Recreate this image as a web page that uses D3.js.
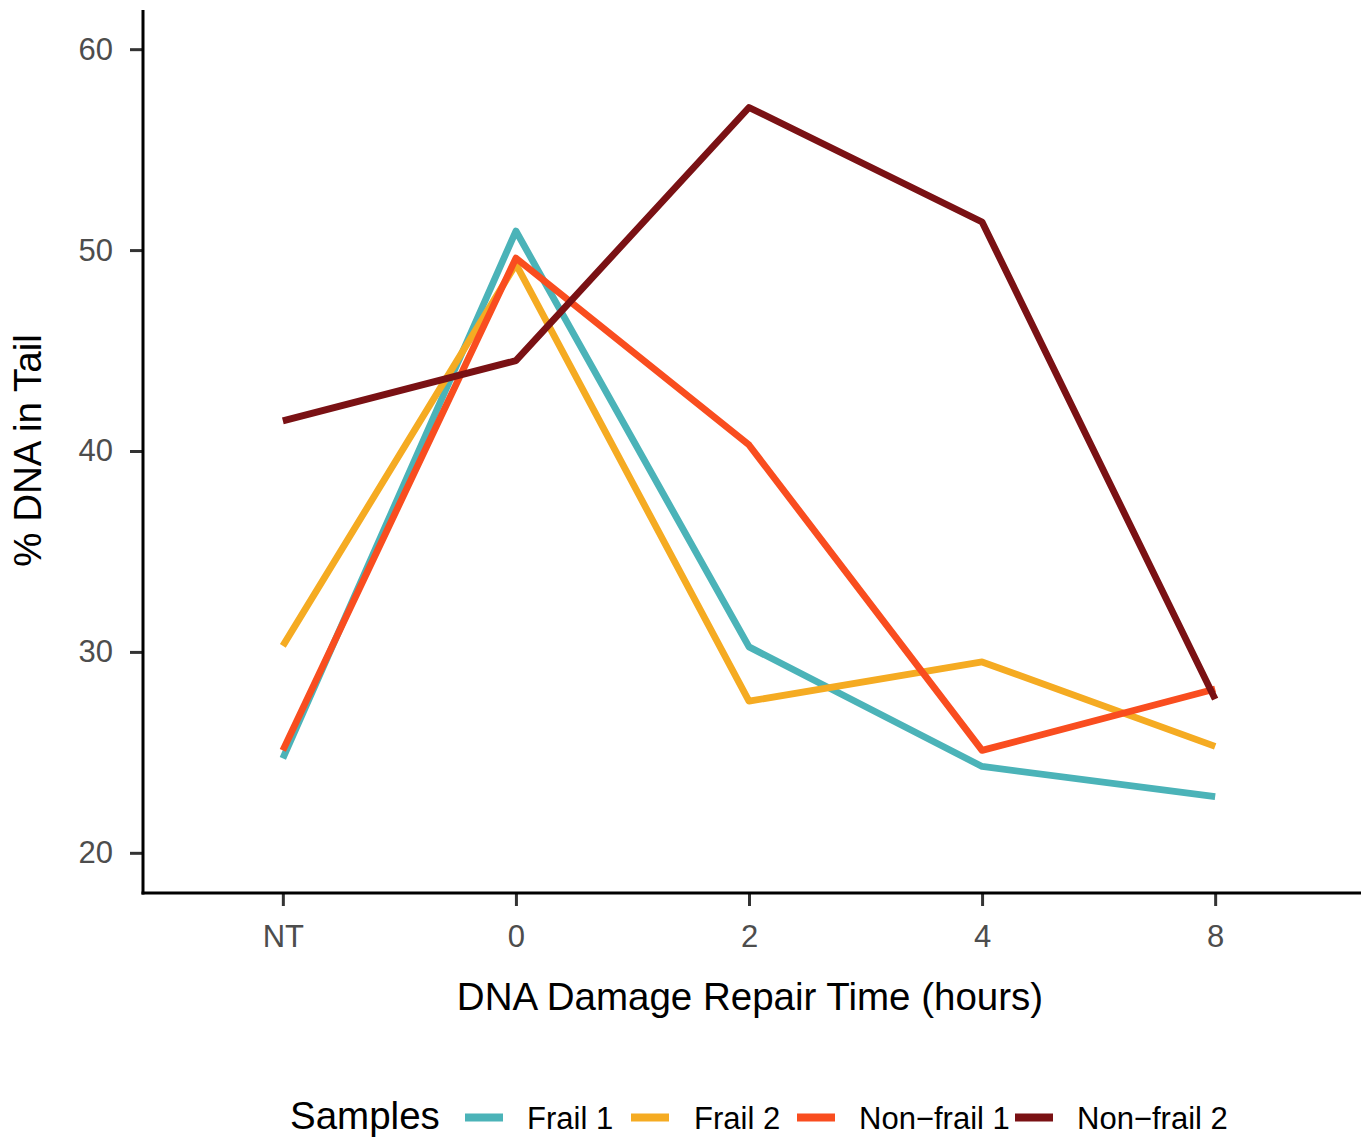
<!DOCTYPE html>
<html>
<head>
<meta charset="utf-8">
<script src="https://cdn.jsdelivr.net/npm/d3@7"></script>
<style>
  html, body { margin: 0; padding: 0; background: #fff; }
  svg { display: block; font-family: "Liberation Sans", Arial, Helvetica, sans-serif; }
</style>
</head>
<body>
<svg id="chart" width="1361" height="1140"></svg>
<script>
// ---- data ----
const timepoints = ["NT", "0", "2", "4", "8"];
const seriesNames = ["Frail 1", "Frail 2", "Non\u2212frail 1", "Non\u2212frail 2"];
const frail1 = [24.7, 50.95, 30.25, 24.3, 22.8];
const frail2 = [30.3, 49.3, 27.55, 29.5, 25.3];
const nonFrail1 = [25.1, 49.6, 40.3, 25.1, 28.15];
const nonFrail2 = [41.5, 44.5, 57.1, 51.4, 27.65];
const seriesColors = ["#4BB3B8", "#F5AB22", "#F94D1F", "#7A1114"];
const yTicks = [20, 30, 40, 50, 60];

const seriesValues = [frail1, frail2, nonFrail1, nonFrail2];
const series = seriesNames.map((name, i) => ({
  name, color: seriesColors[i],
  values: timepoints.map((t, j) => ({ t, v: seriesValues[i][j] }))
}));

// ---- layout ----
const svg = d3.select("#chart");
const plot = { left: 143, right: 1355, top: 10, bottom: 893 };

const x = d3.scalePoint()
  .domain(timepoints)
  .range([plot.left, plot.right])
  .padding(0.6);

const y = d3.scaleLinear()
  .domain([18.0, 61.95])
  .range([plot.bottom, plot.top]);

// lines
const line = d3.line().x(d => x(d.t)).y(d => y(d.v));
svg.append("g").selectAll("path")
  .data(series)
  .join("path")
  .attr("d", d => line(d.values))
  .attr("fill", "none")
  .attr("stroke", d => d.color)
  .attr("stroke-width", 6.8)
  .attr("stroke-linejoin", "round")
  .attr("stroke-linecap", "butt");

// y axis
const yAxis = svg.append("g")
  .attr("transform", `translate(${plot.left},0)`)
  .call(d3.axisLeft(y).tickValues(yTicks).tickSize(13).tickPadding(4));
yAxis.select(".domain").remove();
yAxis.selectAll(".tick line").attr("stroke", "#333333").attr("stroke-width", 3);
yAxis.selectAll(".tick text")
  .attr("fill", "#4D4D4D").attr("font-size", 31)
  .attr("font-family", "Liberation Sans, Arial, sans-serif")
  .attr("x", -30);

// x axis
const xAxis = svg.append("g")
  .attr("transform", `translate(0,${plot.bottom})`)
  .call(d3.axisBottom(x).tickSize(13).tickPadding(4));
xAxis.select(".domain").remove();
xAxis.selectAll(".tick line").attr("stroke", "#333333").attr("stroke-width", 3);
xAxis.selectAll(".tick text")
  .attr("fill", "#4D4D4D").attr("font-size", 31)
  .attr("font-family", "Liberation Sans, Arial, sans-serif")
  .attr("dy", null)
  .attr("y", 54);

// axis lines
svg.append("line")
  .attr("x1", plot.left).attr("x2", plot.left)
  .attr("y1", plot.top).attr("y2", plot.bottom + 1.5)
  .attr("stroke", "#000").attr("stroke-width", 3);
svg.append("line")
  .attr("x1", plot.left - 1.5).attr("x2", 1361)
  .attr("y1", plot.bottom).attr("y2", plot.bottom)
  .attr("stroke", "#000").attr("stroke-width", 3);

// axis titles
svg.append("text")
  .attr("x", (plot.left + plot.right) / 2 + 1)
  .attr("y", 1010)
  .attr("text-anchor", "middle")
  .attr("font-size", 38.5)
  .attr("fill", "#000")
  .text("DNA Damage Repair Time (hours)");

svg.append("text")
  .attr("transform", `translate(41,${(plot.top + plot.bottom) / 2 - 1}) rotate(-90)`)
  .attr("text-anchor", "middle")
  .attr("font-size", 38.5)
  .attr("fill", "#000")
  .text("% DNA in Tail");

// legend
const legend = svg.append("g");
legend.append("text")
  .attr("x", 290).attr("y", 1129)
  .attr("font-size", 38.5)
  .attr("fill", "#000")
  .text("Samples");

const keyX = [465, 631, 797, 1015];
const labelX = [527, 694, 859, 1077];
const items = legend.selectAll("g.item")
  .data(series)
  .join("g").attr("class", "item");
items.append("line")
  .attr("x1", (d, i) => keyX[i]).attr("x2", (d, i) => keyX[i] + 38)
  .attr("y1", 1117.5).attr("y2", 1117.5)
  .attr("stroke", d => d.color)
  .attr("stroke-width", 8);
items.append("text")
  .attr("x", (d, i) => labelX[i]).attr("y", 1128.5)
  .attr("font-size", 31)
  .attr("fill", "#000")
  .text(d => d.name);
</script>
</body>
</html>
